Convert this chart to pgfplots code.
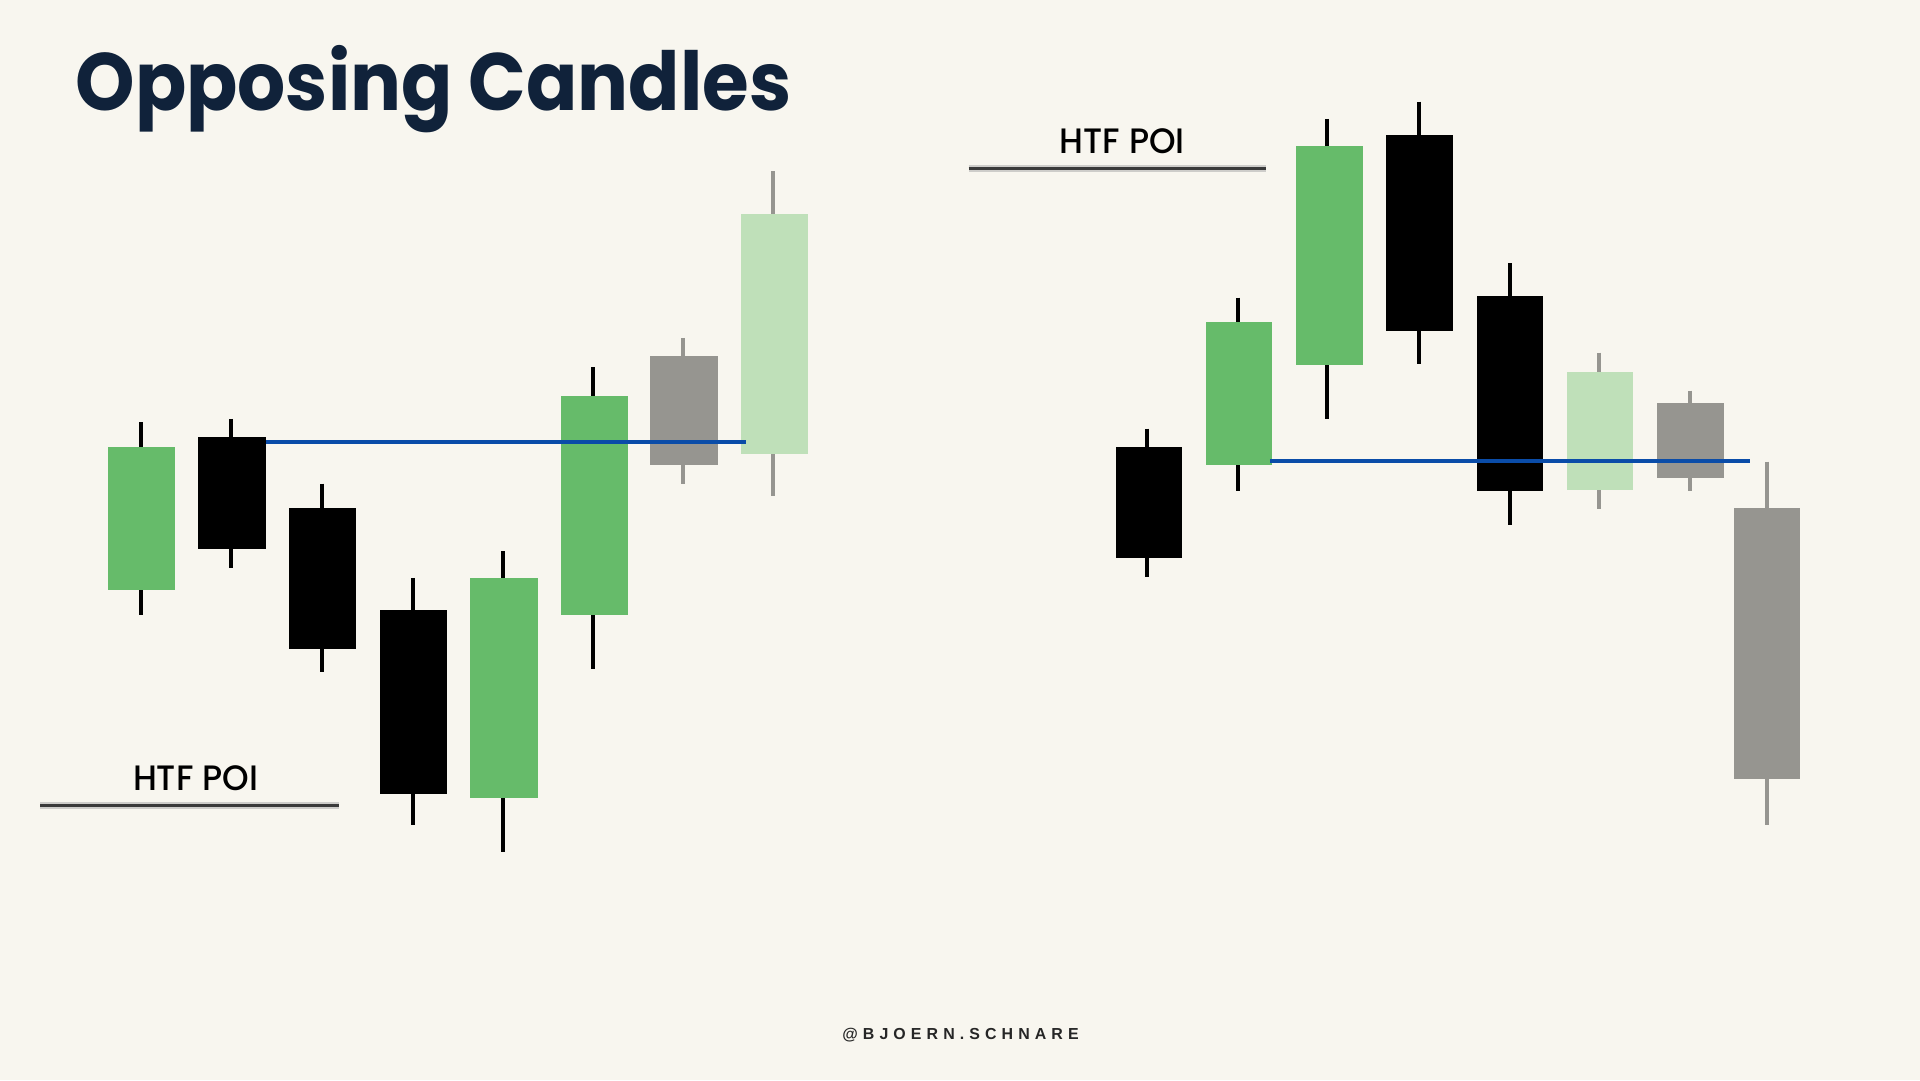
\documentclass[border=0pt]{standalone}
\usepackage{pgfplots}
\pgfplotsset{compat=1.18}
\usepackage{fontspec}
\setmainfont{Poppins}[UprightFont=* Medium]
\newfontfamily\titlefont{Poppins}[UprightFont=* Bold]
\newfontfamily\footfont{Liberation Sans}[UprightFont=* Bold, LetterSpace=32]
\definecolor{bgcol}{HTML}{F8F6EF}
\definecolor{cgreen}{HTML}{66BB6A}
\definecolor{clight}{HTML}{BFE0B9}
\definecolor{cgray}{HTML}{969590}
\definecolor{wgray}{HTML}{969590}
\definecolor{cblue}{HTML}{0A4CA8}
\definecolor{navy}{HTML}{10223A}
\definecolor{poiline}{HTML}{3A3A3A}
% candle: #1 wick x, #2 left, #3 right, #4 body top, #5 body bottom, #6 high, #7 low, #8 body colour, #9 wick colour
\newcommand{\candle}[9]{%
  \addplot[draw=#9, line width=0.33mm] coordinates {(#1,#6) (#1,#7)};
  \addplot[fill=#8, draw=none] coordinates {(#2,#4) (#3,#4) (#3,#5) (#2,#5)} -- cycle;
}
\begin{document}
\begin{tikzpicture}
\begin{axis}[
  scale only axis, width=15.68cm, height=8.82cm,
  xmin=0, xmax=1568, ymin=0, ymax=882, y dir=reverse,
  hide axis, clip=false]
  % background
  \addplot[fill=bgcol, draw=none] coordinates {(0,0) (1568,0) (1568,882) (0,882)} -- cycle;

  % ---- left chart ----
  \candle{115}{88}{143}{365}{482}{345}{502}{cgreen}{black}
  \candle{189}{162}{217}{357}{448}{342}{464}{black}{black}
  \candle{263}{236}{291}{415}{530}{395}{549}{black}{black}
  \candle{337}{310}{365}{498}{648}{472}{674}{black}{black}
  \candle{411}{384}{439}{472}{652}{450}{696}{cgreen}{black}
  \candle{484}{458}{513}{323}{502}{300}{546}{cgreen}{black}
  \candle{558}{531}{586}{291}{380}{276}{395}{cgray}{wgray}
  \candle{631}{605}{660}{175}{371}{140}{405}{clight}{wgray}
  \addplot[draw=cblue, line width=0.3mm] coordinates {(217,361) (609,361)};

  % ---- right chart ----
  \candle{937}{911}{965}{365}{456}{350}{471}{black}{black}
  \candle{1011}{985}{1039}{263}{380}{243}{401}{cgreen}{black}
  \candle{1084}{1058}{1113}{119}{298}{97}{342}{cgreen}{black}
  \candle{1159}{1132}{1187}{110}{270}{83}{297}{black}{black}
  \candle{1233}{1206}{1260}{242}{401}{215}{429}{black}{black}
  \candle{1306}{1280}{1334}{304}{400}{288}{416}{clight}{wgray}
  \candle{1380}{1353}{1408}{329}{390}{319}{401}{cgray}{wgray}
  \candle{1443}{1416}{1470}{415}{636}{377}{674}{cgray}{wgray}
  \addplot[draw=cblue, line width=0.3mm] coordinates {(1037,376.5) (1429,376.5)};

  % ---- HTF POI lines ----
  \addplot[draw=gray!70, line width=0.6mm, opacity=0.5] coordinates {(33,657.7) (277,657.7)};
  \addplot[draw=poiline, line width=0.3mm] coordinates {(33,657.7) (277,657.7)};
  \addplot[draw=gray!70, line width=0.6mm, opacity=0.5] coordinates {(791,137.5) (1034,137.5)};
  \addplot[draw=poiline, line width=0.3mm] coordinates {(791,137.5) (1034,137.5)};

  % ---- texts ----
  \node[anchor=base west, inner sep=0pt, text=navy] at (axis cs:61,90.4)
    {\scalebox{0.93}[1]{\titlefont\fontsize{18.9pt}{20pt}\selectfont Opposing Candles}};
  \node[anchor=base, inner sep=0pt] at (axis cs:159.7,645.7)
    {\scalebox{0.96}[1]{\fontsize{8.2pt}{9pt}\selectfont HTF POI}};
  \node[anchor=base, inner sep=0pt] at (axis cs:916.5,125.2)
    {\scalebox{0.96}[1]{\fontsize{8.2pt}{9pt}\selectfont HTF POI}};
  \node[anchor=base, inner sep=0pt, text=black!85] at (axis cs:784.4,848.5)
    {\footfont\fontsize{3.7pt}{4pt}\selectfont @BJOERN.SCHNARE};
\end{axis}
\end{tikzpicture}
\end{document}
